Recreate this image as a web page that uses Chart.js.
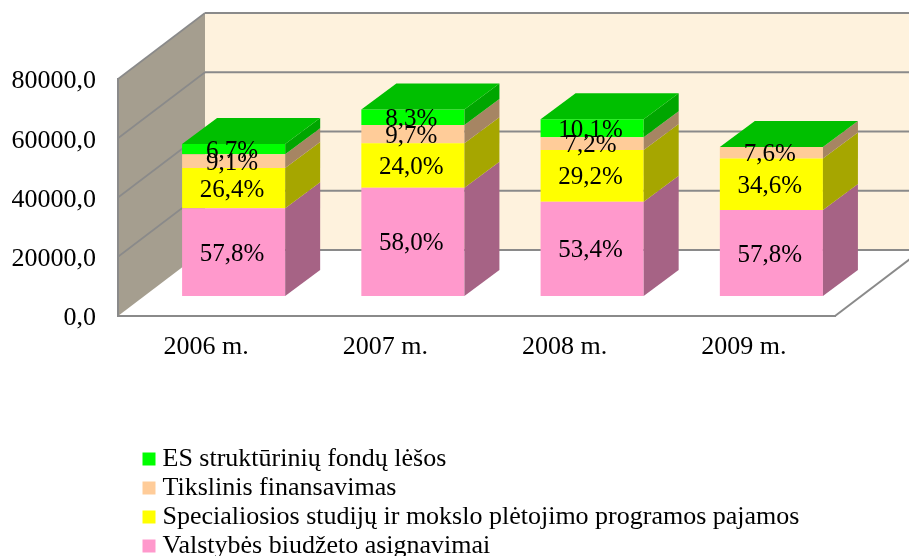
<!DOCTYPE html>
<html><head><meta charset="utf-8">
<style>html,body{margin:0;padding:0;background:#fff;overflow:hidden}canvas{display:block}</style>
<script src="https://cdn.jsdelivr.net/npm/chart.js@4"></script></head>
<body><canvas id="c" width="909" height="556"></canvas>
<script>
const categories = ['2006 m.', '2007 m.', '2008 m.', '2009 m.'];
const seriesNames = ['Valstybės biudžeto asignavimai', 'Specialiosios studijų ir mokslo plėtojimo programos pajamos', 'Tikslinis finansavimas', 'ES struktūrinių fondų lėšos'];
const budget = [29650, 36500, 31800, 29050];
const special = [13550, 15100, 17500, 17400];
const targeted = [4670, 6150, 4300, 3820];
const euFunds = [3440, 5240, 6050, 0];
const budgetPct = ['57,8%', '58,0%', '53,4%', '57,8%'];
const specialPct = ['26,4%', '24,0%', '29,2%', '34,6%'];
const targetedPct = ['9,1%', '9,7%', '7,2%', '7,6%'];
const euPct = ['6,7%', '8,3%', '10,1%', ''];

const FONT = '"Liberation Serif", "Times New Roman", serif';
const SIZE = 26;
const LABEL_SIZE = 25;
const TXT = '#000';
const LINE = '#8a8a8a';
const DEPTH = {x: 87, y: -66};
const BAR_OFF = {x: 26, y: -20};
const BAR_DEPTH = {x: 35, y: -26};
const colors = ['#FF99CC', '#FFFF00', '#FFCC99', '#00FF00'];
const sideColors = ['#A66385', '#A6A600', '#A68563', '#00A600'];
const topColor = '#00BF00';
const pctLists = [budgetPct, specialPct, targetedPct, euPct];

const scene = {
  id: 'scene',
  beforeDraw(chart) {
    const {ctx, chartArea: a, scales: {y}} = chart;
    const W = chart.width;
    ctx.save();
    ctx.fillStyle = '#FEF2DD';
    ctx.fillRect(a.left + DEPTH.x, a.top + DEPTH.y, W - a.left - DEPTH.x, a.bottom - a.top);
    ctx.fillStyle = '#A59E8F';
    ctx.beginPath();
    ctx.moveTo(a.left, a.top); ctx.lineTo(a.left + DEPTH.x, a.top + DEPTH.y);
    ctx.lineTo(a.left + DEPTH.x, a.bottom + DEPTH.y); ctx.lineTo(a.left, a.bottom);
    ctx.closePath(); ctx.fill();
    ctx.strokeStyle = LINE;
    y.ticks.forEach(t => {
      const py = y.getPixelForValue(t.value);
      if (t.value > 0) {
        ctx.lineWidth = 1.6;
        ctx.beginPath(); ctx.moveTo(a.left, py); ctx.lineTo(a.left + DEPTH.x, py + DEPTH.y); ctx.stroke();
      }
      ctx.lineWidth = 2;
      ctx.beginPath(); ctx.moveTo(a.left + DEPTH.x, py + DEPTH.y); ctx.lineTo(W, py + DEPTH.y); ctx.stroke();
    });
    ctx.lineWidth = 2;
    ctx.beginPath(); ctx.moveTo(a.right, a.bottom); ctx.lineTo(a.right + DEPTH.x, a.bottom + DEPTH.y); ctx.stroke();
    ctx.restore();
  },
  beforeDatasetsDraw(chart) {
    const {ctx} = chart;
    ctx.save();
    ctx.translate(BAR_OFF.x, BAR_OFF.y);
  },
  afterDatasetsDraw(chart) {
    const {ctx} = chart;
    const metas = chart.data.datasets.map((d, i) => chart.getDatasetMeta(i));
    metas.forEach((meta, di) => {
      meta.data.forEach((bar, i) => {
        if (!chart.data.datasets[di].data[i]) return;
        const right = bar.x + bar.width / 2;
        ctx.fillStyle = sideColors[di];
        ctx.beginPath();
        ctx.moveTo(right, bar.base); ctx.lineTo(right + BAR_DEPTH.x, bar.base + BAR_DEPTH.y);
        ctx.lineTo(right + BAR_DEPTH.x, bar.y + BAR_DEPTH.y); ctx.lineTo(right, bar.y);
        ctx.closePath(); ctx.fill();
      });
    });
    categories.forEach((c, i) => {
      const tops = metas.map(m => m.data[i]);
      const bar = tops[0];
      const top = Math.min(...tops.map(b => b.y));
      const l = bar.x - bar.width / 2, r = bar.x + bar.width / 2;
      ctx.fillStyle = topColor;
      ctx.beginPath();
      ctx.moveTo(l, top); ctx.lineTo(r, top);
      ctx.lineTo(r + BAR_DEPTH.x, top + BAR_DEPTH.y); ctx.lineTo(l + BAR_DEPTH.x, top + BAR_DEPTH.y);
      ctx.closePath(); ctx.fill();
    });
    ctx.fillStyle = TXT;
    ctx.font = LABEL_SIZE + 'px ' + FONT;
    ctx.textAlign = 'center';
    ctx.textBaseline = 'middle';
    metas.forEach((meta, di) => {
      meta.data.forEach((bar, i) => {
        const s = pctLists[di][i];
        if (s) ctx.fillText(s, bar.x - 1.5, (bar.y + bar.base) / 2 + 2);
      });
    });
    ctx.restore();
  },
  afterLayout(chart) {
    const lg = chart.legend;
    lg.left = 145.5; lg.top = 443; lg.right = 909; lg.bottom = 640;
    lg.width = 764; lg.height = 197;
    // the square's stroke reaches left of the box, so draw the legend without its own clip
    lg.draw = function () { this.ctx.save(); this._draw(); this.ctx.restore(); };
  }
};

const chart = new Chart(document.getElementById('c').getContext('2d'), {
  type: 'bar',
  data: {
    labels: categories,
    datasets: [budget, special, targeted, euFunds].map((data, i) => ({
      label: seriesNames[i], data, backgroundColor: colors[i], borderWidth: 0,
      categoryPercentage: 0.575, barPercentage: 1, clip: false
    }))
  },
  plugins: [scene],
  options: {
    responsive: false,
    animation: false,
    layout: {padding: {top: 79, right: 74, bottom: 200, left: 0}},
    plugins: {
      tooltip: {enabled: false},
      title: {display: false},
      legend: {
        position: 'chartArea',
        align: 'start',
        reverse: true,
        labels: {
          boxWidth: 1, boxHeight: 1, padding: 3, color: TXT,
          font: {family: FONT, size: SIZE, lineHeight: 1},
          generateLabels(chart) {
            return Chart.defaults.plugins.legend.labels.generateLabels(chart).map(it =>
              Object.assign(it, {strokeStyle: it.fillStyle, lineWidth: 12, lineJoin: 'miter', lineDash: []}));
          }
        }
      }
    },
    scales: {
      x: {
        stacked: true,
        grid: {display: false, drawTicks: false},
        border: {display: true, color: LINE, width: 2},
        ticks: {color: TXT, padding: 16, maxRotation: 0, labelOffset: -1.5, font: {family: FONT, size: SIZE}},
        afterFit(s) { s.height = 40; }
      },
      y: {
        stacked: true,
        min: 0, max: 80000,
        grid: {display: false, drawTicks: false},
        border: {display: true, color: LINE, width: 2},
        ticks: {
          stepSize: 20000, color: TXT, padding: 22, labelOffset: 2.5,
          font: {family: FONT, size: SIZE},
          callback: v => v.toFixed(1).replace('.', ',')
        },
        afterFit(s) { s.width = 118; }
      }
    }
  }
});
</script></body></html>
